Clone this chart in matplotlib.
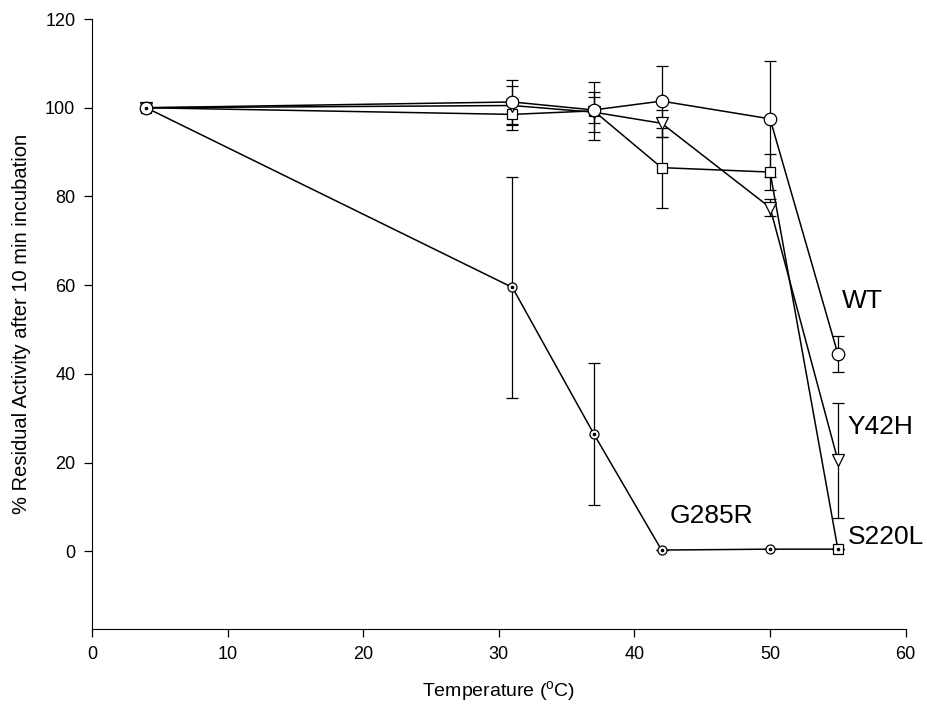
import matplotlib
matplotlib.use("Agg")
import matplotlib.pyplot as plt

plt.rcParams["font.family"] = ["Liberation Sans", "DejaVu Sans"]
plt.rcParams["mathtext.fontset"] = "custom"
plt.rcParams["mathtext.rm"] = "Liberation Sans"

# --- data ---------------------------------------------------------------
temps = [4, 31, 37, 42, 50, 55]

wt = [100, 101.3, 99.5, 101.5, 97.5, 44.5]
wt_err = [0, 5.0, 3.0, 8.0, 13.0, 4.0]

y42h = [100, 100.5, 99.0, 96.5, 77.5, 20.5]
y42h_err = [0, 4.5, 4.5, 3.0, 2.0, 13.0]

s220l = [100, 98.5, 99.3, 86.5, 85.5, 0.5]
s220l_err = [0, 3.5, 6.5, 9.0, 4.0, 0]

g285r = [100, 59.5, 26.5, 0.3, 0.5, 0.5]
g285r_err = [0, 25.0, 16.0, 0, 0, 0]

labels = ["WT", "Y42H", "S220L", "G285R"]
label_pos = [(55.3, 56.5), (55.7, 28.0), (55.7, 3.2), (42.6, 8.0)]

fig = plt.figure(figsize=(9.27, 7.04), dpi=100)
ax = fig.add_axes([0.0992, 0.1065, 0.8778, 0.8665])

common = dict(color="black", lw=1.1, elinewidth=0.9, capsize=4, capthick=0.9,
              mfc="white", mec="black", mew=0.9)
ax.errorbar(temps, g285r, yerr=g285r_err, marker="o", ms=6.5, zorder=2, **common)
ax.errorbar(temps, s220l, yerr=s220l_err, marker="s", ms=7, zorder=3, **common)
ax.errorbar(temps, y42h, yerr=y42h_err, marker="v", ms=8.5, zorder=3, **common)
ax.errorbar(temps, wt, yerr=wt_err, marker="o", ms=9, zorder=3, **common)
# centre dot of the G285R symbols
ax.plot(temps, g285r, ls="none", marker="o", ms=1.6, color="black", zorder=5)

for txt, (x, y) in zip(labels, label_pos):
    ax.text(x, y, txt, fontsize=19, ha="left", va="center")

ax.set_xlim(0, 60)
ax.set_ylim(-17.5, 120)
ax.set_xticks(range(0, 61, 10))
ax.set_yticks(range(0, 121, 20))
ax.spines["top"].set_visible(False)
ax.spines["right"].set_visible(False)
ax.tick_params(direction="out", length=6, width=0.9, labelsize=13, pad=6)
ax.set_xlabel("Temperature ($^{\\mathrm{o}}$C)", fontsize=14, labelpad=12)
ax.set_ylabel("% Residual Activity after 10 min incubation", fontsize=14.5,
              labelpad=10)

fig.savefig("out.png", dpi=100)
